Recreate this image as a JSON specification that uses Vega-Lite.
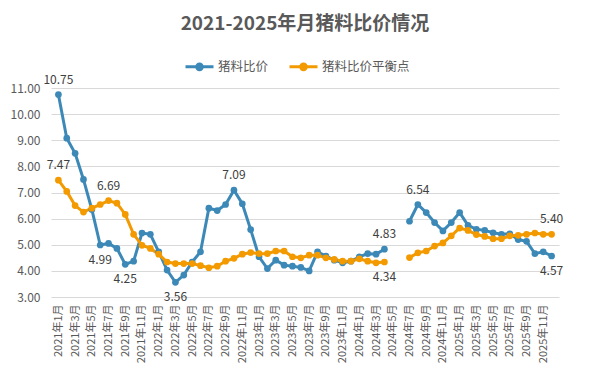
{
  "$schema": "https://vega.github.io/schema/vega-lite/v6.json",
  "autosize": {"type": "none"},
  "width": 508,
  "height": 209,
  "padding": {"left": 51, "top": 88, "right": 35, "bottom": 73},
  "background": "white",
  "config": {"view": {"stroke": null}, "font": "Noto Sans CJK SC"},
  "title": {"text": "2021-2025年月猪料比价情况", "fontSize": 19, "font": "Noto Sans CJK SC", "fontWeight": "bold", "color": "#595959", "anchor": "middle", "offset": 17},
  "data": {"values": [
    {"month": "2021年1月", "猪料比价": 10.75, "猪料比价平衡点": 7.47},
    {"month": "2021年2月", "猪料比价": 9.08, "猪料比价平衡点": 7.04},
    {"month": "2021年3月", "猪料比价": 8.50, "猪料比价平衡点": 6.50},
    {"month": "2021年4月", "猪料比价": 7.50, "猪料比价平衡点": 6.25},
    {"month": "2021年5月", "猪料比价": 6.35, "猪料比价平衡点": 6.40},
    {"month": "2021年6月", "猪料比价": 4.99, "猪料比价平衡点": 6.54},
    {"month": "2021年7月", "猪料比价": 5.05, "猪料比价平衡点": 6.69},
    {"month": "2021年8月", "猪料比价": 4.86, "猪料比价平衡点": 6.59},
    {"month": "2021年9月", "猪料比价": 4.25, "猪料比价平衡点": 6.16},
    {"month": "2021年10月", "猪料比价": 4.37, "猪料比价平衡点": 5.40},
    {"month": "2021年11月", "猪料比价": 5.45, "猪料比价平衡点": 4.98},
    {"month": "2021年12月", "猪料比价": 5.40, "猪料比价平衡点": 4.86},
    {"month": "2022年1月", "猪料比价": 4.73, "猪料比价平衡点": 4.64},
    {"month": "2022年2月", "猪料比价": 4.03, "猪料比价平衡点": 4.34},
    {"month": "2022年3月", "猪料比价": 3.56, "猪料比价平衡点": 4.28},
    {"month": "2022年4月", "猪料比价": 3.84, "猪料比价平衡点": 4.28},
    {"month": "2022年5月", "猪料比价": 4.34, "猪料比价平衡点": 4.28},
    {"month": "2022年6月", "猪料比价": 4.73, "猪料比价平衡点": 4.20},
    {"month": "2022年7月", "猪料比价": 6.40, "猪料比价平衡点": 4.12},
    {"month": "2022年8月", "猪料比价": 6.31, "猪料比价平衡点": 4.18},
    {"month": "2022年9月", "猪料比价": 6.54, "猪料比价平衡点": 4.37},
    {"month": "2022年10月", "猪料比价": 7.09, "猪料比价平衡点": 4.48},
    {"month": "2022年11月", "猪料比价": 6.57, "猪料比价平衡点": 4.64},
    {"month": "2022年12月", "猪料比价": 5.58, "猪料比价平衡点": 4.70},
    {"month": "2023年1月", "猪料比价": 4.54, "猪料比价平衡点": 4.66},
    {"month": "2023年2月", "猪料比价": 4.09, "猪料比价平衡点": 4.66},
    {"month": "2023年3月", "猪料比价": 4.41, "猪料比价平衡点": 4.76},
    {"month": "2023年4月", "猪料比价": 4.22, "猪料比价平衡点": 4.76},
    {"month": "2023年5月", "猪料比价": 4.18, "猪料比价平衡点": 4.54},
    {"month": "2023年6月", "猪料比价": 4.13, "猪料比价平衡点": 4.50},
    {"month": "2023年7月", "猪料比价": 4.00, "猪料比价平衡点": 4.60},
    {"month": "2023年8月", "猪料比价": 4.73, "猪料比价平衡点": 4.60},
    {"month": "2023年9月", "猪料比价": 4.57, "猪料比价平衡点": 4.50},
    {"month": "2023年10月", "猪料比价": 4.41, "猪料比价平衡点": 4.44},
    {"month": "2023年11月", "猪料比价": 4.31, "猪料比价平衡点": 4.37},
    {"month": "2023年12月", "猪料比价": 4.37, "猪料比价平衡点": 4.37},
    {"month": "2024年1月", "猪料比价": 4.54, "猪料比价平衡点": 4.46},
    {"month": "2024年2月", "猪料比价": 4.66, "猪料比价平衡点": 4.37},
    {"month": "2024年3月", "猪料比价": 4.64, "猪料比价平衡点": 4.31},
    {"month": "2024年4月", "猪料比价": 4.83, "猪料比价平衡点": 4.34},
    {"month": "2024年5月", "猪料比价": null, "猪料比价平衡点": null},
    {"month": "2024年6月", "猪料比价": null, "猪料比价平衡点": null},
    {"month": "2024年7月", "猪料比价": 5.90, "猪料比价平衡点": 4.51},
    {"month": "2024年8月", "猪料比价": 6.54, "猪料比价平衡点": 4.69},
    {"month": "2024年9月", "猪料比价": 6.23, "猪料比价平衡点": 4.76},
    {"month": "2024年10月", "猪料比价": 5.85, "猪料比价平衡点": 4.95},
    {"month": "2024年11月", "猪料比价": 5.53, "猪料比价平衡点": 5.07},
    {"month": "2024年12月", "猪料比价": 5.85, "猪料比价平衡点": 5.34},
    {"month": "2025年1月", "猪料比价": 6.23, "猪料比价平衡点": 5.64},
    {"month": "2025年2月", "猪料比价": 5.74, "猪料比价平衡点": 5.55},
    {"month": "2025年3月", "猪料比价": 5.59, "猪料比价平衡点": 5.39},
    {"month": "2025年4月", "猪料比价": 5.55, "猪料比价平衡点": 5.32},
    {"month": "2025年5月", "猪料比价": 5.46, "猪料比价平衡点": 5.23},
    {"month": "2025年6月", "猪料比价": 5.40, "猪料比价平衡点": 5.23},
    {"month": "2025年7月", "猪料比价": 5.42, "猪料比价平衡点": 5.34},
    {"month": "2025年8月", "猪料比价": 5.20, "猪料比价平衡点": 5.36},
    {"month": "2025年9月", "猪料比价": 5.13, "猪料比价平衡点": 5.40},
    {"month": "2025年10月", "猪料比价": 4.66, "猪料比价平衡点": 5.45},
    {"month": "2025年11月", "猪料比价": 4.73, "猪料比价平衡点": 5.40},
    {"month": "2025年12月", "猪料比价": 4.57, "猪料比价平衡点": 5.40}
  ]},
  "transform": [{"fold": ["猪料比价", "猪料比价平衡点"], "as": ["series", "value"]}],
  "encoding": {
    "x": {
      "field": "month", "type": "ordinal", "sort": null,
      "scale": {"type": "point", "padding": 0.885},
      "axis": {
        "title": null, "labelAngle": 270, "labelAlign": "right", "labelBaseline": "middle",
        "ticks": false, "domain": false, "grid": false, "labelOverlap": false,
        "labelPadding": 7, "labelFontSize": 11, "labelColor": "#595959", "labelFont": "Noto Sans CJK SC",
        "labelExpr": "test(/年(1|3|5|7|9|11)月$/, datum.label) ? datum.label : ''"
      }
    },
    "y": {
      "field": "value", "type": "quantitative",
      "scale": {"domain": [3, 11], "nice": false, "zero": false},
      "axis": {
        "title": null, "values": [3, 4, 5, 6, 7, 8, 9, 10, 11], "format": ".2f",
        "grid": true, "gridColor": "#D9D9D9", "gridWidth": 1, "domain": false, "ticks": false,
        "labelPadding": 11, "labelFontSize": 12, "labelColor": "#595959", "labelFont": "Noto Sans CJK SC"
      }
    },
    "color": {
      "field": "series", "type": "nominal",
      "scale": {"domain": ["猪料比价", "猪料比价平衡点"], "range": ["#3C89B8", "#F39A00"]},
      "legend": {
        "title": null, "orient": "none", "legendX": 133, "legendY": -37, "direction": "horizontal",
        "symbolType": "M-1,0H1M0.2,0A0.2,0.2 0 1 1 -0.2,0A0.2,0.2 0 1 1 0.2,0Z",
        "symbolSize": 784, "symbolStrokeWidth": 3, "labelFontSize": 12.5, "labelColor": "#595959",
        "labelFont": "Noto Sans CJK SC", "columnPadding": 14, "labelOffset": 3
      }
    }
  },
  "layer": [
    {"mark": {"type": "line", "strokeWidth": 3, "invalid": "break-paths-show-domains", "point": {"filled": true, "size": 45}}},
    {
      "transform": [{"filter": "indexof(['猪料比价|2021年1月','猪料比价|2022年10月','猪料比价|2024年4月','猪料比价|2024年8月','猪料比价平衡点|2021年1月','猪料比价平衡点|2021年7月','猪料比价平衡点|2025年12月'], datum.series + '|' + datum.month) >= 0"}],
      "mark": {"type": "text", "dy": -15, "fontSize": 12, "font": "Noto Sans CJK SC"},
      "encoding": {"text": {"field": "value", "type": "quantitative", "format": ".2f"}, "color": {"value": "#404040"}}
    },
    {
      "transform": [{"filter": "indexof(['猪料比价|2021年6月','猪料比价|2021年9月','猪料比价|2022年3月','猪料比价|2025年12月','猪料比价平衡点|2024年4月'], datum.series + '|' + datum.month) >= 0"}],
      "mark": {"type": "text", "dy": 15, "fontSize": 12, "font": "Noto Sans CJK SC"},
      "encoding": {"text": {"field": "value", "type": "quantitative", "format": ".2f"}, "color": {"value": "#404040"}}
    }
  ]
}
